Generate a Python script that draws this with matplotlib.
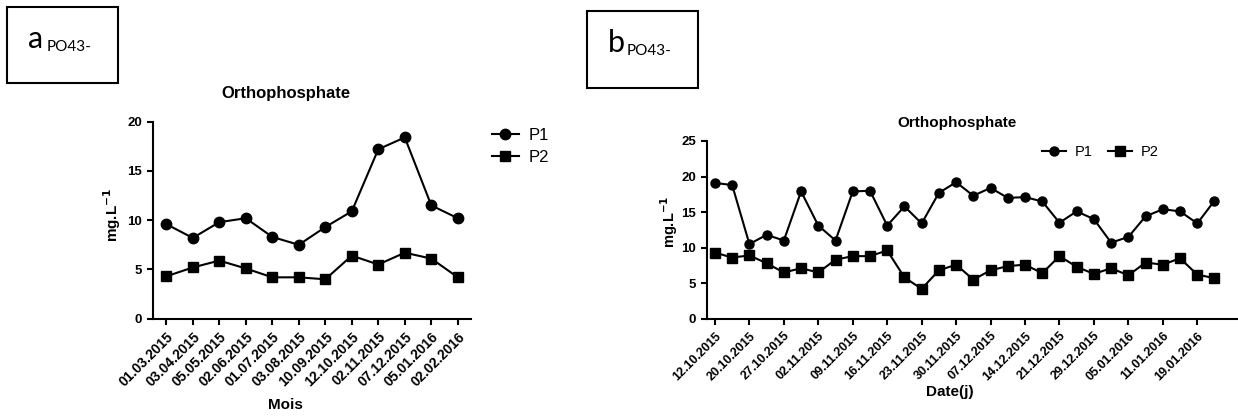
import matplotlib.pyplot as plt
from matplotlib.patches import Rectangle

# panel a : monthly
mois = ['01.03.2015', '03.04.2015', '05.05.2015', '02.06.2015', '01.07.2015', '03.08.2015',
        '10.09.2015', '12.10.2015', '02.11.2015', '07.12.2015', '05.01.2016', '02.02.2016']
a_p1 = [9.6, 8.2, 9.8, 10.2, 8.3, 7.5, 9.3, 10.9, 17.2, 18.4, 11.5, 10.2]
a_p2 = [4.3, 5.2, 5.9, 5.1, 4.2, 4.2, 4.0, 6.4, 5.5, 6.7, 6.1, 4.2]

# panel b : daily (labels on every other point)
dates = ['12.10.2015', '20.10.2015', '27.10.2015', '02.11.2015', '09.11.2015', '16.11.2015',
         '23.11.2015', '30.11.2015', '07.12.2015', '14.12.2015', '21.12.2015', '29.12.2015',
         '05.01.2016', '11.01.2016', '19.01.2016']
b_p1 = [19.1, 18.8, 10.5, 11.8, 11.0, 17.9, 13.1, 11.0, 17.9, 18.0,
        13.1, 15.8, 13.4, 17.7, 19.2, 17.3, 18.4, 17.0, 17.1, 16.5,
        13.5, 15.1, 14.0, 10.7, 11.5, 14.4, 15.4, 15.1, 13.4, 16.6]
b_p2 = [9.3, 8.6, 8.9, 7.8, 6.5, 7.1, 6.5, 8.3, 8.8, 8.8,
        9.6, 5.8, 4.2, 6.8, 7.6, 5.5, 6.8, 7.4, 7.6, 6.4,
        8.8, 7.3, 6.3, 7.1, 6.1, 7.9, 7.6, 8.5, 6.2, 5.7]

plt.rcParams['font.family'] = ['Liberation Sans', 'DejaVu Sans']

fig = plt.figure(figsize=(12.38, 4.16), dpi=100)
axa = fig.add_axes([0.1236, 0.2339, 0.2569, 0.4736])
axb = fig.add_axes([0.5711, 0.2339, 0.428, 0.4272])


def style(ax, ysize):
    for s in ['top', 'right']:
        ax.spines[s].set_visible(False)
    for s in ['left', 'bottom']:
        ax.spines[s].set_linewidth(1.5)
    ax.tick_params(width=1.5, length=4.5)
    ax.tick_params(axis='y', labelsize=ysize)
    for lab in ax.get_yticklabels():
        lab.set_fontweight('bold')


# panel a
xa = range(len(mois))
axa.plot(xa, a_p1, color='black', lw=1.5, marker='o', ms=7.5, label='P1')
axa.plot(xa, a_p2, color='black', lw=1.5, marker='s', ms=7, label='P2')
axa.set_xlim(-0.5, 11.5)
axa.set_ylim(0, 20)
axa.set_yticks([0, 5, 10, 15, 20])
axa.set_xticks(list(xa))
axa.set_xticklabels(mois, rotation=45, ha='right', rotation_mode='anchor',
                    fontweight='bold', fontsize=10)
style(axa, 9.5)
axa.set_ylabel('mg.L$^{\\mathbf{-1}}$', fontweight='bold', fontsize=11)
axa.yaxis.set_label_coords(-0.094, 0.526)
fig.text(0.2306, 0.026, 'Mois', ha='center', va='center', fontweight='bold', fontsize=11)
fig.text(0.2306, 0.775, 'Orthophosphate', ha='center', va='center', fontweight='bold', fontsize=12)
axa.legend(loc='center left', bbox_to_anchor=(0.3975, 0.648), bbox_transform=fig.transFigure,
           frameon=False, fontsize=12, handlelength=1.6, handletextpad=0.6, labelspacing=0.45,
           borderpad=0, borderaxespad=0)

# panel b
xb = range(len(b_p1))
axb.plot(xb, b_p1, color='black', lw=1.5, marker='o', ms=6.5, label='P1')
axb.plot(xb, b_p2, color='black', lw=1.5, marker='s', ms=6.5, label='P2')
axb.set_xlim(-0.46, 30.3)
axb.set_ylim(0, 25)
axb.set_yticks([0, 5, 10, 15, 20, 25])
axb.set_xticks(list(range(0, len(b_p1), 2)))
axb.set_xticklabels(dates, rotation=45, ha='right', rotation_mode='anchor',
                    fontweight='bold', fontsize=9)
style(axb, 9.5)
axb.set_ylabel('mg.L$^{\\mathbf{-1}}$', fontweight='bold', fontsize=10.5)
axb.yaxis.set_label_coords(-0.051, 0.544)
fig.text(0.767, 0.057, 'Date(j)', ha='center', va='center', fontweight='bold', fontsize=11)
fig.text(0.773, 0.705, 'Orthophosphate', ha='center', va='center', fontweight='bold', fontsize=11)
axb.legend(loc='center left', bbox_to_anchor=(0.842, 0.635), bbox_transform=fig.transFigure,
           frameon=False, fontsize=10.5, ncol=2, handlelength=1.6, handletextpad=0.6,
           columnspacing=1.1, borderpad=0, borderaxespad=0)

# label boxes
for x0, y0, letter in [(0.0054, 0.8005, 'a'), (0.4739, 0.789, 'b')]:
    fig.patches.append(Rectangle((x0, y0), 0.09, 0.1834, transform=fig.transFigure,
                                 fill=False, edgecolor='black', lw=1.5))
    fig.text(x0 + 0.017, y0 + 0.085, letter, fontsize=22, family=['Lato', 'DejaVu Sans'],
             va='baseline')
    fig.text(x0 + 0.032, y0 + 0.078, 'PO43-', fontsize=11, family=['Lato', 'DejaVu Sans'],
             va='baseline')

fig.savefig('out.png', dpi=100)
